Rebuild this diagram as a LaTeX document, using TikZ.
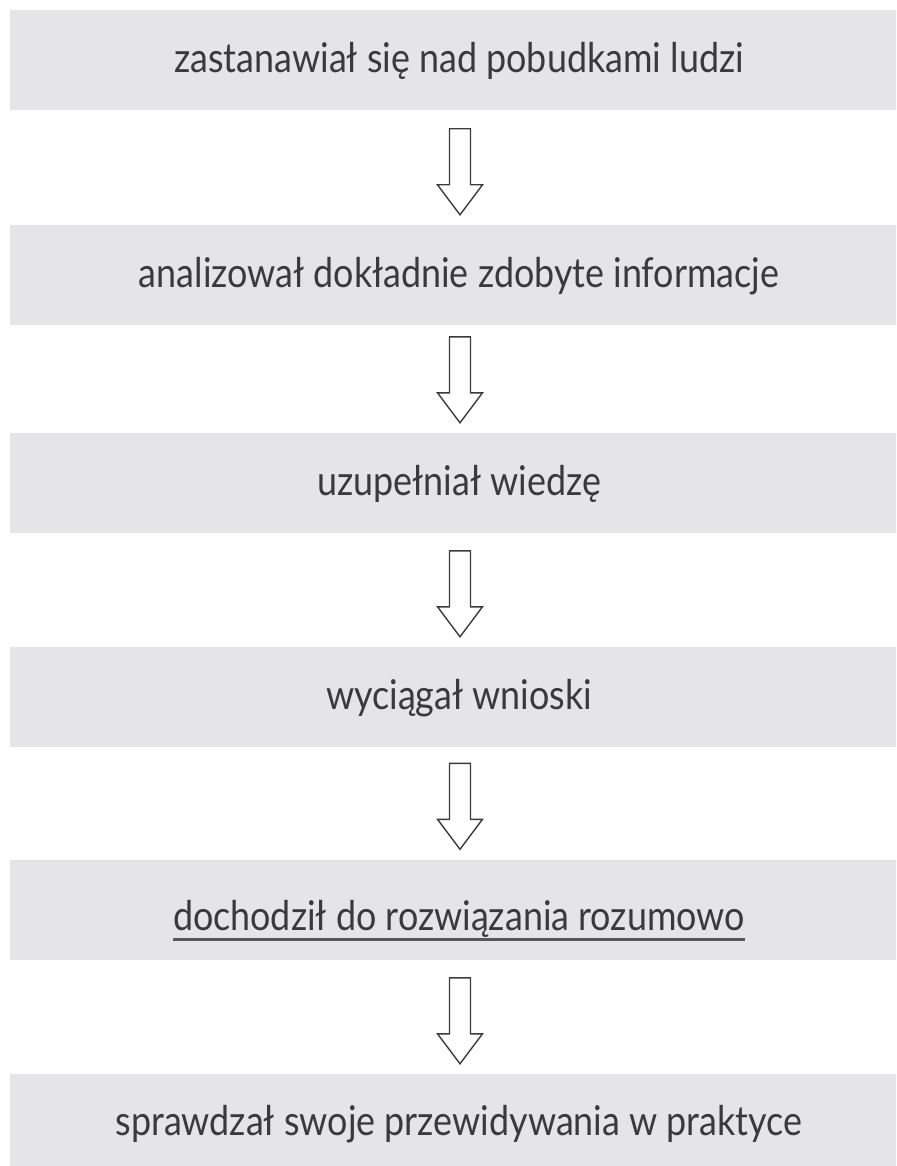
\documentclass[tikz,border=0pt]{standalone}
\usepackage{fontspec}
\setmainfont{Lato}[FakeStretch=0.875]
\usetikzlibrary{calc}
\definecolor{boxgray}{RGB}{229,229,231}
\definecolor{txtgray}{RGB}{58,58,60}
\definecolor{arrgray}{RGB}{60,60,62}
\tikzset{
  box/.style={fill=boxgray, draw=none, minimum width=900pt, minimum height=100pt, inner sep=0pt},
  lbl/.style={anchor=base, inner sep=0pt, text=txtgray, font=\fontsize{41}{49}\selectfont},
  bigarrow/.style={draw=arrgray, line width=1.4pt, fill=white, line join=miter},
  uline/.style={draw=txtgray!85, line width=2.4pt}
}
\begin{document}
\begin{tikzpicture}[x=1pt,y=-1pt]
\useasboundingbox (0,0) rectangle (896,1166);
\begin{scope}
\clip (0,0) rectangle (896,1166);
\node[box] (b1) at (460,60.5) {};
\node[box] (b2) at (460,275) {};
\node[box] (b3) at (460,483) {};
\node[box] (b4) at (460,697) {};
\node[box] (b5) at (460,909.5) {};
\node[box] (b6) at (460,1124) {};
\end{scope}
\node[lbl] (t1) at ($(b1.center)+(-1,12.5)$) {zastanawiał się nad pobudkami ludzi};
\node[lbl] (t2) at ($(b2.center)+(-1,12.5)$) {analizował dokładnie zdobyte informacje};
\node[lbl] (t3) at ($(b3.center)+(-1,12.5)$) {uzupełniał wiedzę};
\node[lbl] (t4) at ($(b4.center)+(-1,12.5)$) {wyciągał wnioski};
\node[lbl] (t5) at ($(b5.center)+(-1,21)$) {dochodził do rozwiązania rozumowo};
\node[lbl] (t6) at ($(b6.center)+(-1,11)$) {sprawdzał swoje przewidywania w praktyce};
\draw[uline] ($(t5.base west)+(0,9)$) -- ($(t5.base east)+(0,9)$);
\foreach \n in {2,3,4,5,6}{
  \draw[bigarrow] ($(b\n.north)+(-10.5,-96)$) -- ($(b\n.north)+(10.5,-96)$)
    -- ($(b\n.north)+(10.5,-40)$) -- ($(b\n.north)+(22.5,-40)$)
    -- ($(b\n.north)+(0,-10)$) -- ($(b\n.north)+(-22.5,-40)$)
    -- ($(b\n.north)+(-10.5,-40)$) -- cycle;
}
\end{tikzpicture}
\end{document}
